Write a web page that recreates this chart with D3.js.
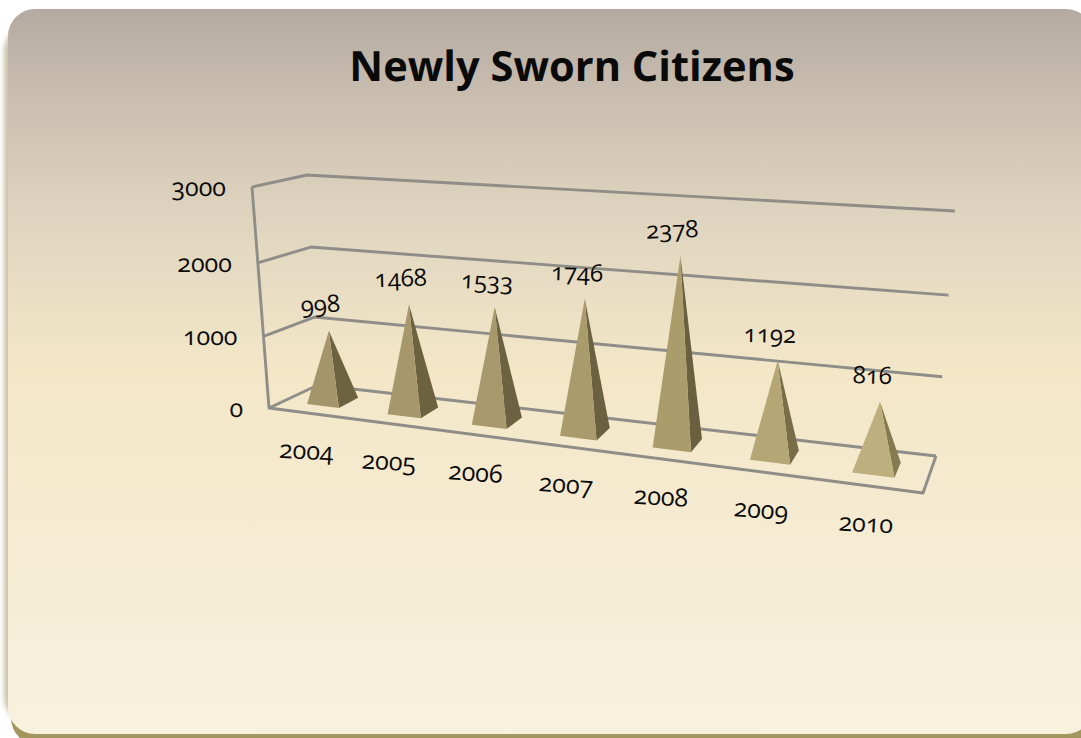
<!DOCTYPE html>
<html>
<head>
<meta charset="utf-8">
<script src="https://cdn.jsdelivr.net/npm/d3@7"></script>
<style>
    html, body { margin: 0; padding: 0; background: #fff; overflow: hidden; }
    svg { display: block; }
    text { font-family: "Open Sans", sans-serif; fill: #0a0a0a; font-variant-numeric: oldstyle-nums; font-feature-settings: "onum"; text-rendering: geometricPrecision; }
</style>
</head>
<body>
<div id="chart"></div>
<script>
var chartTitle = "Newly Sworn Citizens";
var years = ["2004", "2005", "2006", "2007", "2008", "2009", "2010"];
var sworn = [998, 1468, 1533, 1746, 2378, 1192, 816];
var yTicks = [0, 1000, 2000, 3000];
// the labels in the picture tilt a little, each its own way
var valueTilt = [-4, -2, 3, 2, -2, 1, 2];
var yearTilt = [3, 3, 4, 4, 3, 4, 3];

var width = 1081;
var height = 738;

var svg = d3.select("#chart").append("svg")
    .attr("width", width)
    .attr("height", height);

/*****************  Panel **********************/

var defs = svg.append("defs");

var grad = defs.append("linearGradient")
    .attr("id", "panelFill")
    .attr("x1", 0).attr("y1", 0).attr("x2", 0).attr("y2", 1);

grad.selectAll("stop")
    .data([[0, "#b5aaa1"], [0.16, "#cfc4b3"], [0.3, "#e0d6c0"], [0.5, "#f4e7c8"], [1, "#f7f1de"]])
    .enter()
    .append("stop")
    .attr("offset", function (d) { return d[0]; })
    .attr("stop-color", function (d) { return d[1]; });

var soft = defs.append("filter")
    .attr("id", "soft")
    .attr("x", "-5%").attr("y", "-5%").attr("width", "110%").attr("height", "110%");
soft.append("feGaussianBlur").attr("stdDeviation", 2.5);

// faint shadow down the left side, solid olive along the bottom
svg.append("rect")
    .attr("x", 4).attr("y", 24)
    .attr("width", 1090).attr("height", 700)
    .attr("rx", 27)
    .attr("fill", "#c9c2a8")
    .attr("filter", "url(#soft)");

svg.append("rect")
    .attr("x", 11).attr("y", 300)
    .attr("width", 1085).attr("height", 445)
    .attr("rx", 27)
    .attr("fill", "#a3965f");

svg.append("rect")
    .attr("x", 8).attr("y", 9)
    .attr("width", 1085).attr("height", 725)
    .attr("rx", 27)
    .attr("fill", "url(#panelFill)");

svg.append("text")
    .attr("x", 572)
    .attr("y", 81)
    .attr("text-anchor", "middle")
    .attr("font-size", 41.6)
    .attr("font-weight", 700)
    .text(chartTitle);

/*****************  Scales and projection **********************/

var xScale = d3.scaleBand()
    .domain(years)
    .range([0, 1])
    .paddingInner(0.6)
    .paddingOuter(0.3);

var yScale = d3.scaleLinear()
    .domain([0, 3000])
    .range([0, 1]);

// the box corners as seen on screen: f/b front/back, l/r left/right, 0/1 floor/top
var box = {
    fl0: [269, 408], fr0: [923, 493], bl0: [318, 385], br0: [936, 456],
    fl1: [252, 187], fr1: [935, 230], bl1: [307, 175], br1: [955, 211]
};
var baseFront = 0.3;
var baseBack = 0.72;

function warp(t, k) {
    return t / (1 + k * (1 - t));
}

function mix(a, b, t) {
    return a + (b - a) * t;
}

function project(u, v, depth) {
    var a = warp(u, 0.184);
    var h = warp(v, 0.045);
    return [0, 1].map(function (i) {
        var front0 = mix(box.fl0[i], box.fr0[i], a);
        var back0 = mix(box.bl0[i], box.br0[i], a);
        var front1 = mix(box.fl1[i], box.fr1[i], a);
        var back1 = mix(box.bl1[i], box.br1[i], a);
        return mix(mix(front0, back0, depth), mix(front1, back1, depth), h);
    });
}

var line = d3.line();

/*****************  Walls and floor **********************/

var grid = svg.append("g")
    .attr("fill", "none")
    .attr("stroke", "#8f8d88")
    .attr("stroke-width", 2.9)
    .attr("stroke-linejoin", "round");

grid.selectAll(".wall")
    .data(yTicks)
    .enter()
    .append("path")
    .attr("class", "wall")
    .attr("d", function (d) {
        var v = yScale(d);
        return line([project(0, v, 0), project(0, v, 1), project(1, v, 1)]);
    });

grid.append("path")
    .attr("d", line([project(0, 1, 0), project(0, 0, 0), project(1, 0, 0), project(1, 0, 1)]));

/*****************  Pyramids **********************/

var frontColor = d3.scaleLinear().domain([0, 4, 6]).range(["#a4966a", "#aa9c6b", "#bdaf7e"]);
var sideColor = d3.scaleLinear().domain([0, 4, 6]).range(["#6e6341", "#6a5f3e", "#857a50"]);

var bars = svg.selectAll(".pyramid")
    .data(years)
    .enter()
    .append("g")
    .attr("class", "pyramid");

bars.append("path")
    .attr("fill", function (d, i) { return sideColor(i); })
    .attr("d", function (d, i) {
        var r = xScale(d) + xScale.bandwidth();
        var c = xScale(d) + xScale.bandwidth() / 2;
        var m = (baseFront + baseBack) / 2;
        return line([project(r, 0, baseFront), project(r, 0, baseBack), project(c, yScale(sworn[i]), m)]) + "Z";
    });

bars.append("path")
    .attr("fill", function (d, i) { return frontColor(i); })
    .attr("d", function (d, i) {
        var l = xScale(d);
        var r = xScale(d) + xScale.bandwidth();
        var c = xScale(d) + xScale.bandwidth() / 2;
        var m = (baseFront + baseBack) / 2;
        return line([project(l, 0, baseFront), project(r, 0, baseFront), project(c, yScale(sworn[i]), m)]) + "Z";
    });

/*****************  Labels **********************/

svg.selectAll(".valueLabel")
    .data(years)
    .enter()
    .append("text")
    .attr("class", "valueLabel")
    .attr("text-anchor", "middle")
    .attr("font-size", 24)
    .attr("transform", function (d, i) {
        var c = xScale(d) + xScale.bandwidth() / 2;
        var p = project(c, yScale(sworn[i]), (baseFront + baseBack) / 2);
        return "translate(" + (p[0] - 8) + "," + (p[1] - 18) + ") rotate(" + valueTilt[i] + ")";
    })
    .text(function (d, i) { return sworn[i]; });

svg.selectAll(".yearLabel")
    .data(years)
    .enter()
    .append("text")
    .attr("class", "yearLabel")
    .attr("text-anchor", "middle")
    .attr("font-size", 25)
    .attr("transform", function (d, i) {
        var c = xScale(d) + xScale.bandwidth() / 2;
        var p = project(c, 0, 0);
        return "translate(" + (p[0] - 3) + "," + (p[1] + 46) + ") rotate(" + yearTilt[i] + ")";
    })
    .text(function (d) { return d; });

svg.selectAll(".tickLabel")
    .data(yTicks)
    .enter()
    .append("text")
    .attr("class", "tickLabel")
    .attr("text-anchor", "end")
    .attr("font-size", 25)
    .attr("transform", function (d) {
        var p = project(0, yScale(d), 0);
        return "translate(" + (p[0] - 26) + "," + (p[1] + 9) + ")";
    })
    .text(function (d) { return d; });
</script>
</body>
</html>
